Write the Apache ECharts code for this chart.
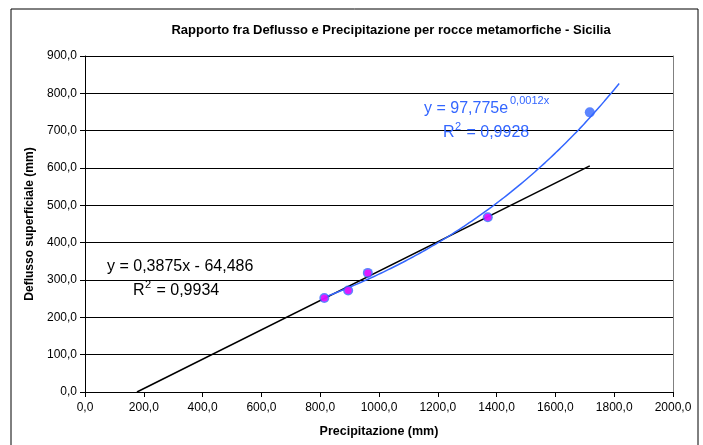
<!DOCTYPE html>
<html>
<head>
<meta charset="utf-8">
<script src="https://cdn.jsdelivr.net/npm/echarts@6/dist/echarts.min.js"></script>
<style>
	html, body { margin: 0; padding: 0; background: #fff; }
	#chart { width: 703px; height: 445px; }
</style>
</head>
<body>
<div id="chart"></div>
<script>
// precipitazione (mm) e deflusso (mm)
var precipBlu = [814, 895, 962, 1370, 1717];
var deflussoBlu = [252, 272, 319, 468, 749];
// serie magenta (primi quattro punti)
var precipMag = [814, 895, 962, 1370];
var deflussoMag = [252, 272, 319, 468];

var xTicks = [0, 200, 400, 600, 800, 1000, 1200, 1400, 1600, 1800, 2000];
var yTicks = [0, 100, 200, 300, 400, 500, 600, 700, 800, 900];

function coppie(xs, ys) {
	return xs.map(function (x, i) { return [x, ys[i]]; });
}

// regressione lineare (minimi quadrati), come la linea di tendenza di Excel
function fitLineare(xs, ys) {
	var n = xs.length, mx = 0, my = 0;
	for (var i = 0; i < n; i++) { mx += xs[i]; my += ys[i]; }
	mx /= n; my /= n;
	var sxy = 0, sxx = 0;
	for (var j = 0; j < n; j++) {
		sxy += (xs[j] - mx) * (ys[j] - my);
		sxx += (xs[j] - mx) * (xs[j] - mx);
	}
	var b = sxy / sxx;
	return { a: my - b * mx, b: b };
}

// regressione esponenziale y = a*e^(bx) su ln(y)
function fitEsponenziale(xs, ys) {
	var f = fitLineare(xs, ys.map(function (y) { return Math.log(y); }));
	return { a: Math.exp(f.a), b: f.b };
}

var lin = fitLineare(precipMag, deflussoMag);
var linX0 = -lin.a / lin.b;
var linX1 = precipBlu[precipBlu.length - 1];
var tendLineare = [[linX0, 0], [linX1, lin.a + lin.b * linX1]];

var esp = fitEsponenziale(precipBlu, deflussoBlu);
var tendEsp = [];
var espDa = precipBlu[0], espA = precipBlu[precipBlu.length - 1] + 100;
for (var k = 0; k <= 60; k++) {
	var xx = espDa + (espA - espDa) * k / 60;
	tendEsp.push([xx, esp.a * Math.exp(esp.b * xx)]);
}

function fmt(v) {
	return v.toFixed(1).replace(".", ",");
}

var font = "Liberation Sans, Arial, sans-serif";
var blu = "#3366FF";

var myChart = echarts.init(document.getElementById("chart"), null, { renderer: "canvas" });
var option = {
	backgroundColor: "#fff",
	animation: false,
	textStyle: { fontFamily: font },
	title: {
		text: "Rapporto fra Deflusso e Precipitazione per rocce metamorfiche - Sicilia",
		left: 386,
		top: 19,
		textAlign: "center",
		textStyle: { fontFamily: font, fontSize: 13, fontWeight: "bold", color: "#000" }
	},
	grid: { left: 85, right: 30, top: 56, bottom: 53 },
	xAxis: {
		type: "value",
		min: xTicks[0],
		max: xTicks[xTicks.length - 1],
		interval: 200,
		name: "Precipitazione (mm)",
		nameLocation: "middle",
		nameGap: 33,
		nameTextStyle: { fontFamily: font, fontSize: 12.5, fontWeight: "bold", color: "#000" },
		axisLine: { lineStyle: { color: "#000", width: 1 } },
		axisTick: { show: true, inside: false, length: 5, lineStyle: { color: "#000" } },
		axisLabel: { formatter: fmt, fontSize: 12, color: "#000", margin: 10, fontFamily: font },
		splitLine: { show: false }
	},
	yAxis: [
		{
			type: "value",
			min: yTicks[0],
			max: yTicks[yTicks.length - 1],
			interval: 100,
			name: "Deflusso superficiale (mm)",
			nameLocation: "middle",
			nameGap: 46,
			nameTextStyle: { fontFamily: font, fontSize: 12, fontWeight: "bold", color: "#000" },
			axisLine: { show: true, lineStyle: { color: "#000", width: 1 } },
			axisTick: { show: true, inside: false, length: 5, lineStyle: { color: "#000" } },
			axisLabel: { formatter: fmt, fontSize: 12, color: "#000", margin: 8, fontFamily: font },
			splitLine: { show: true, lineStyle: { color: "#000", width: 1 } }
		},
		{
			type: "value",
			min: 0,
			max: 900,
			interval: 100,
			position: "right",
			axisLine: { show: true, lineStyle: { color: "#808080", width: 1 } },
			axisTick: { show: false },
			axisLabel: { show: false },
			splitLine: { show: false }
		}
	],
	graphic: [
		{
			type: "rect",
			shape: { x: 11, y: 9, width: 687, height: 450 },
			style: { fill: null, stroke: "#000", lineWidth: 1 },
			silent: true
		},
		{
			type: "text", left: 107, top: 259, z: 100,
			style: { text: "y = 0,3875x - 64,486", fontSize: 16, fontFamily: font, fill: "#000" }
		},
		{
			type: "text", left: 133, top: 283, z: 100,
			style: { text: "R", fontSize: 16, fontFamily: font, fill: "#000" }
		},
		{
			type: "text", left: 145, top: 279, z: 100,
			style: { text: "2", fontSize: 11, fontFamily: font, fill: "#000" }
		},
		{
			type: "text", left: 152, top: 283, z: 100,
			style: { text: " = 0,9934", fontSize: 16, fontFamily: font, fill: "#000" }
		},
		{
			type: "text", left: 424, top: 101, z: 100,
			style: { text: "y = 97,775e", fontSize: 16, fontFamily: font, fill: blu }
		},
		{
			type: "text", left: 510, top: 95, z: 100,
			style: { text: "0,0012x", fontSize: 11, fontFamily: font, fill: blu }
		},
		{
			type: "text", left: 443, top: 125, z: 100,
			style: { text: "R", fontSize: 16, fontFamily: font, fill: blu }
		},
		{
			type: "text", left: 455, top: 121, z: 100,
			style: { text: "2", fontSize: 11, fontFamily: font, fill: blu }
		},
		{
			type: "text", left: 462, top: 125, z: 100,
			style: { text: " = 0,9928", fontSize: 16, fontFamily: font, fill: blu }
		}
	],
	series: [
		{
			name: "tendenza lineare",
			type: "line",
			data: tendLineare,
			showSymbol: false,
			lineStyle: { color: "#000", width: 1.5 },
			z: 2
		},
		{
			name: "tendenza esponenziale",
			type: "line",
			data: tendEsp,
			showSymbol: false,
			smooth: true,
			lineStyle: { color: blu, width: 1.5 },
			z: 3
		},
		{
			name: "deflusso",
			type: "scatter",
			data: coppie(precipBlu, deflussoBlu),
			symbolSize: 10,
			itemStyle: { color: blu },
			z: 4
		},
		{
			name: "deflusso (4 punti)",
			type: "scatter",
			data: coppie(precipMag, deflussoMag),
			symbolSize: 7,
			itemStyle: { color: "#FF00FF" },
			z: 5
		}
	]
};
myChart.setOption(option);
window.addEventListener("resize", myChart.resize);
</script>
</body>
</html>
